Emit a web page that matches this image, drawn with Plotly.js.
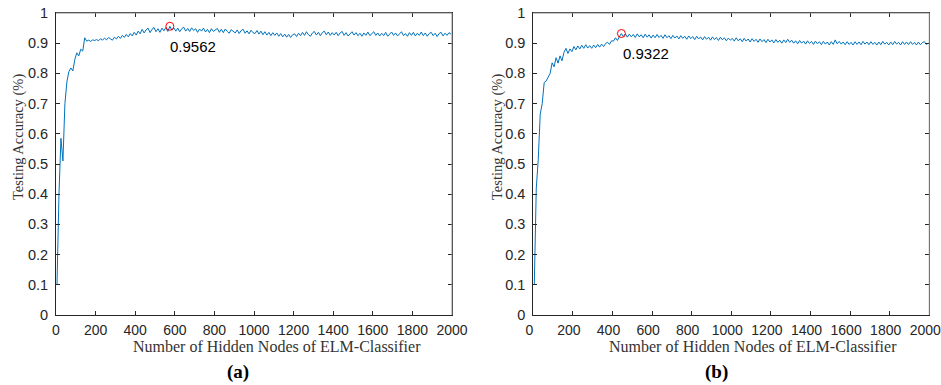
<!DOCTYPE html>
<html>
<head>
<meta charset="utf-8">
<script src="https://cdn.plot.ly/plotly-3.0.1.min.js"></script>
<style>html,body{margin:0;padding:0;background:#fff;}#chart{width:941px;height:385px;}</style>
</head>
<body>
<div id="chart"></div>
<script>
// Hidden-node grid: first sample and spacing
var nodesStart = 5;
var nodesStep = 10;

// (a) testing accuracy, one value per grid point
var accuracyA = [
  0.100, 0.400, 0.585, 0.510, 0.700, 0.772, 0.806, 0.818, 0.808, 0.846,
  0.868, 0.858, 0.880, 0.874, 0.918, 0.907, 0.910, 0.906, 0.911, 0.909,
  0.912, 0.908, 0.915, 0.910, 0.917, 0.911, 0.919, 0.913, 0.910, 0.920,
  0.914, 0.923, 0.916, 0.926, 0.919, 0.929, 0.921, 0.932, 0.924, 0.936,
  0.927, 0.940, 0.931, 0.946, 0.934, 0.944, 0.950, 0.935, 0.946, 0.952,
  0.938, 0.948, 0.936, 0.950, 0.941, 0.952, 0.939, 0.9562, 0.943, 0.951,
  0.940, 0.950, 0.938, 0.948, 0.953, 0.940, 0.949, 0.939, 0.951, 0.942,
  0.948, 0.936, 0.947, 0.940, 0.950, 0.937, 0.946, 0.935, 0.948, 0.939,
  0.945, 0.949, 0.936, 0.946, 0.935, 0.947, 0.939, 0.933, 0.945, 0.938,
  0.934, 0.944, 0.932, 0.942, 0.946, 0.933, 0.941, 0.931, 0.943, 0.935,
  0.932, 0.942, 0.930, 0.940, 0.928, 0.938, 0.927, 0.936, 0.925, 0.935,
  0.926, 0.934, 0.923, 0.932, 0.921, 0.930, 0.920, 0.929, 0.919, 0.928,
  0.931, 0.922, 0.933, 0.925, 0.936, 0.926, 0.938, 0.928, 0.923, 0.934,
  0.939, 0.927, 0.936, 0.925, 0.935, 0.940, 0.928, 0.937, 0.926, 0.935,
  0.927, 0.936, 0.925, 0.934, 0.939, 0.926, 0.935, 0.924, 0.933, 0.938,
  0.927, 0.935, 0.925, 0.933, 0.923, 0.934, 0.926, 0.937, 0.925, 0.933,
  0.938, 0.926, 0.934, 0.924, 0.933, 0.925, 0.936, 0.923, 0.932, 0.937,
  0.926, 0.934, 0.924, 0.933, 0.938, 0.925, 0.932, 0.923, 0.935, 0.926,
  0.936, 0.924, 0.933, 0.926, 0.937, 0.925, 0.934, 0.923, 0.932, 0.936,
  0.925, 0.933, 0.922, 0.932, 0.936, 0.924, 0.933, 0.926, 0.935, 0.930
];

// (b) testing accuracy
var accuracyB = [
  0.100, 0.420, 0.515, 0.665, 0.700, 0.770, 0.775, 0.786, 0.800, 0.835,
  0.822, 0.852, 0.834, 0.858, 0.842, 0.870, 0.883, 0.866, 0.881, 0.872,
  0.889, 0.878, 0.891, 0.881, 0.893, 0.883, 0.895, 0.884, 0.892, 0.883,
  0.894, 0.885, 0.896, 0.887, 0.897, 0.889, 0.899, 0.903, 0.896, 0.908,
  0.907, 0.918, 0.909, 0.922, 0.9322, 0.922, 0.931, 0.920, 0.930, 0.921,
  0.929, 0.919, 0.931, 0.921, 0.928, 0.918, 0.930, 0.920, 0.928, 0.917,
  0.927, 0.918, 0.929, 0.919, 0.926, 0.916, 0.928, 0.918, 0.925, 0.915,
  0.926, 0.917, 0.924, 0.914, 0.925, 0.916, 0.923, 0.913, 0.924, 0.915,
  0.922, 0.912, 0.923, 0.914, 0.921, 0.911, 0.922, 0.913, 0.920, 0.910,
  0.921, 0.912, 0.919, 0.909, 0.920, 0.911, 0.918, 0.908, 0.917, 0.910,
  0.916, 0.907, 0.918, 0.908, 0.915, 0.905, 0.916, 0.907, 0.914, 0.904,
  0.915, 0.906, 0.913, 0.903, 0.914, 0.905, 0.912, 0.902, 0.913, 0.904,
  0.911, 0.901, 0.912, 0.903, 0.910, 0.900, 0.911, 0.902, 0.913, 0.903,
  0.910, 0.900, 0.908, 0.898, 0.909, 0.900, 0.907, 0.897, 0.908, 0.899,
  0.906, 0.896, 0.907, 0.898, 0.905, 0.895, 0.906, 0.897, 0.904, 0.894,
  0.905, 0.896, 0.911, 0.898, 0.906, 0.897, 0.904, 0.895, 0.905, 0.896,
  0.903, 0.894, 0.905, 0.896, 0.904, 0.895, 0.906, 0.897, 0.904, 0.895,
  0.905, 0.896, 0.903, 0.894, 0.904, 0.895, 0.906, 0.897, 0.903, 0.894,
  0.904, 0.895, 0.906, 0.897, 0.903, 0.894, 0.905, 0.896, 0.904, 0.895,
  0.905, 0.896, 0.903, 0.894, 0.904, 0.895, 0.902, 0.905, 0.896, 0.900
];

var panelLabels = ['(a)', '(b)'];
var xTitle = 'Number of Hidden Nodes of ELM-Classifier';
var yTitle = 'Testing Accuracy (%)';

function grid(n) { var g = []; for (var i = 0; i < n; i++) g.push(nodesStart + i * nodesStep); return g; }
function peakOf(ys) { var k = 0; for (var i = 1; i < ys.length; i++) if (ys[i] > ys[k]) k = i; return k; }

var xA = grid(accuracyA.length), xB = grid(accuracyB.length);
var pA = peakOf(accuracyA), pB = peakOf(accuracyB);
var lineColor = '#0072BD';

var traces = [
  {x: xA, y: accuracyA, type: 'scatter', mode: 'lines', line: {color: lineColor, width: 1}, xaxis: 'x', yaxis: 'y', hoverinfo: 'skip'},
  {x: xB, y: accuracyB, type: 'scatter', mode: 'lines', line: {color: lineColor, width: 1}, xaxis: 'x2', yaxis: 'y2', hoverinfo: 'skip'},
  {x: [xA[pA]], y: [accuracyA[pA]], type: 'scatter', mode: 'markers', marker: {symbol: 'circle-open', size: 8, color: '#FF0000', line: {width: 1}}, xaxis: 'x', yaxis: 'y', hoverinfo: 'skip'},
  {x: [xB[pB]], y: [accuracyB[pB]], type: 'scatter', mode: 'markers', marker: {symbol: 'circle-open', size: 8, color: '#FF0000', line: {width: 1}}, xaxis: 'x2', yaxis: 'y2', hoverinfo: 'skip'}
];

var xTickFont = {family: 'Liberation Sans, Arial, sans-serif', size: 14, color: '#262626'};
var yTickFont = {family: 'Liberation Sans, Arial, sans-serif', size: 14.5, color: '#262626'};
function xax(dom, anchor, shift) {
  return {domain: dom, anchor: anchor, range: [0, 2000], dtick: 200, tick0: 0, ticks: 'inside', ticklen: 4,
    tickcolor: '#262626', showline: true, linecolor: '#262626', linewidth: 1, mirror: 'ticks',
    showgrid: false, zeroline: false, tickfont: xTickFont, fixedrange: true, ticklabeloverflow: 'allow',
    ticklabelshift: shift, ticklabelstandoff: 2};
}
function yax(anchor) {
  return {domain: [0.1818, 0.9662], anchor: anchor, range: [0, 1], dtick: 0.1, tick0: 0, ticks: 'inside', ticklen: 4,
    tickcolor: '#262626', showline: true, linecolor: '#262626', linewidth: 1, mirror: 'ticks',
    showgrid: false, zeroline: false, tickfont: yTickFont, fixedrange: true, ticklabeloverflow: 'allow',
    ticklabelstandoff: 4};
}

var serif = 'Liberation Serif, Times New Roman, serif';
var annFont = {family: 'Liberation Sans, Arial, sans-serif', size: 15, color: '#000'};
var annotations = [
  {xref: 'x', yref: 'y', x: xA[pA], y: accuracyA[pA], text: accuracyA[pA].toFixed(4), showarrow: false, xanchor: 'left', yanchor: 'middle', yshift: -20, xshift: -2, font: annFont},
  {xref: 'x2', yref: 'y2', x: xB[pB], y: accuracyB[pB], text: accuracyB[pB].toFixed(4), showarrow: false, xanchor: 'left', yanchor: 'middle', yshift: -20, xshift: 0, font: annFont},
  {xref: 'paper', yref: 'paper', x: 277 / 941, y: 1 - 346.5 / 385, text: xTitle, showarrow: false, xanchor: 'center', yanchor: 'middle', font: {family: serif, size: 16, color: '#333'}},
  {xref: 'paper', yref: 'paper', x: 753 / 941, y: 1 - 346.5 / 385, text: xTitle, showarrow: false, xanchor: 'center', yanchor: 'middle', font: {family: serif, size: 16, color: '#333'}},
  {xref: 'paper', yref: 'paper', x: 18 / 941, y: 1 - 137 / 385, text: yTitle, textangle: -90, showarrow: false, xanchor: 'center', yanchor: 'middle', font: {family: serif, size: 14.5, color: '#333'}},
  {xref: 'paper', yref: 'paper', x: 497 / 941, y: 1 - 137 / 385, text: yTitle, textangle: -90, showarrow: false, xanchor: 'center', yanchor: 'middle', font: {family: serif, size: 14.5, color: '#333'}},
  {xref: 'paper', yref: 'paper', x: 237.5 / 941, y: 1 - 372 / 385, text: '<b>' + panelLabels[0] + '</b>', showarrow: false, xanchor: 'center', yanchor: 'middle', font: {family: serif, size: 19, color: '#000'}},
  {xref: 'paper', yref: 'paper', x: 716 / 941, y: 1 - 372 / 385, text: '<b>' + panelLabels[1] + '</b>', showarrow: false, xanchor: 'center', yanchor: 'middle', font: {family: serif, size: 19, color: '#000'}}
];

var shapes = [];
[['x', 'y'], ['x2', 'y2']].forEach(function (ax) {
  shapes.push({type: 'line', xref: ax[0] + ' domain', yref: ax[1] + ' domain', x0: 0, x1: 1, y0: 1, y1: 1, line: {color: '#8a8a8a', width: 1}, layer: 'above'});
  shapes.push({type: 'line', xref: ax[0] + ' domain', yref: ax[1] + ' domain', x0: 1, x1: 1, y0: 0, y1: 1, line: {color: '#8a8a8a', width: 1}, layer: 'above'});
});

var layout = {
  width: 941, height: 385,
  margin: {l: 0, r: 0, t: 0, b: 0},
  paper_bgcolor: '#fff', plot_bgcolor: '#fff',
  showlegend: false, hovermode: false,
  xaxis: xax([56 / 941, 452 / 941], 'y', 0),
  yaxis: yax('x'),
  xaxis2: xax([533.3 / 941, 929.3 / 941], 'y2', -4),
  yaxis2: yax('x2'),
  annotations: annotations,
  shapes: shapes
};

Plotly.newPlot('chart', traces, layout, {displayModeBar: false, staticPlot: true});
</script>
</body>
</html>
